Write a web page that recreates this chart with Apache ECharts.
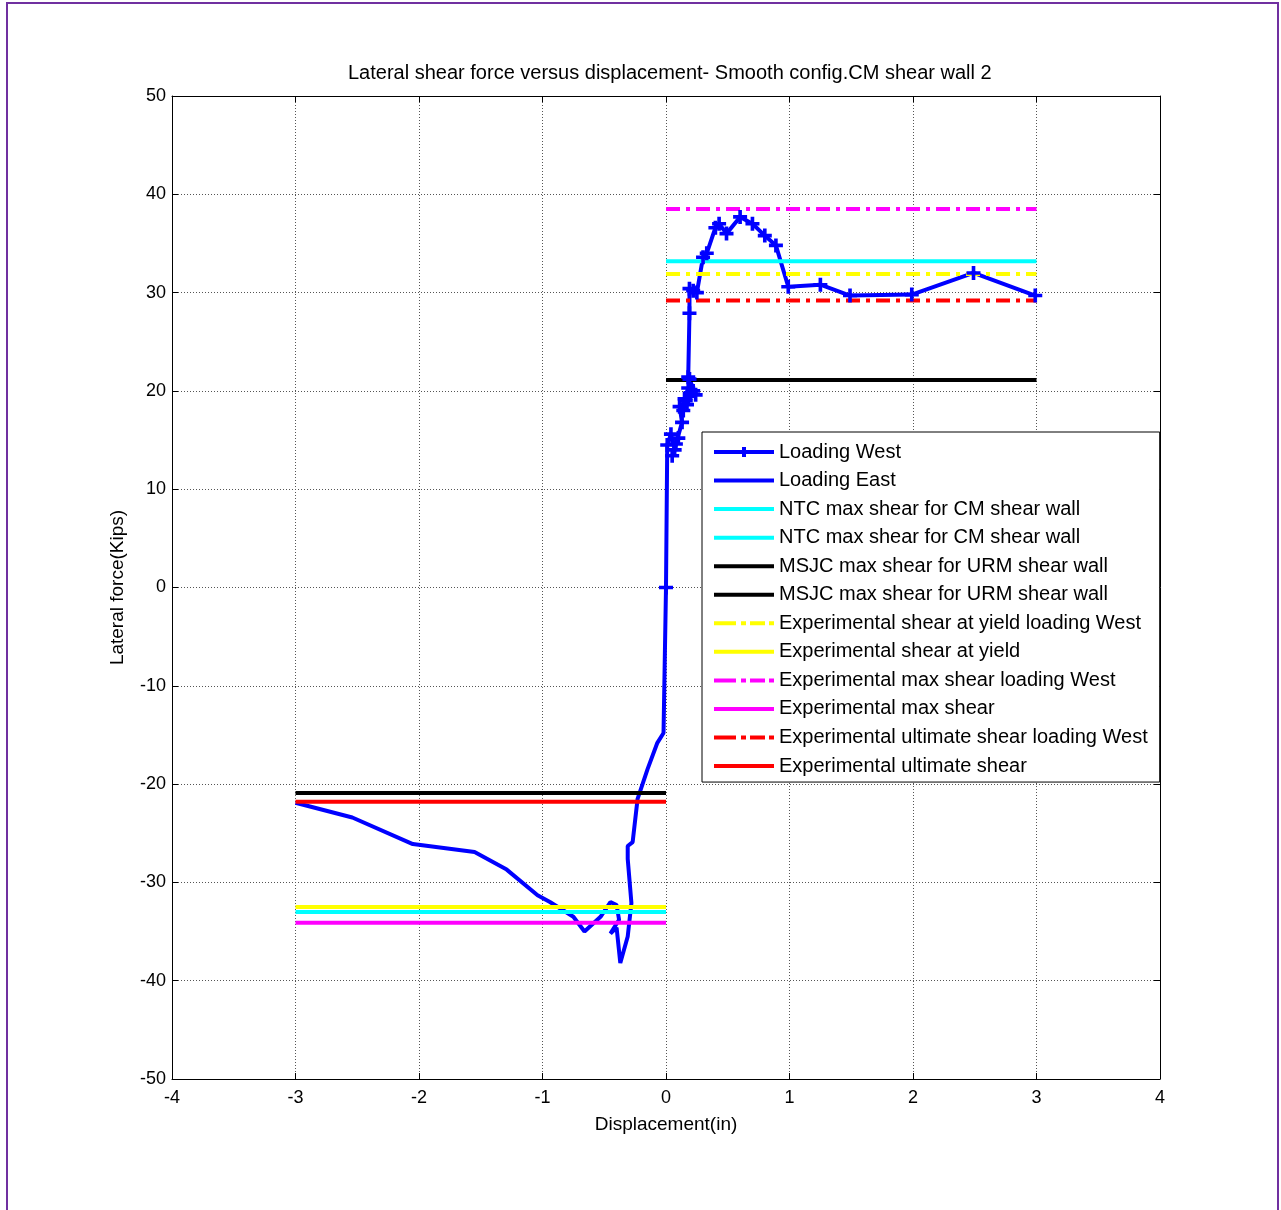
<!DOCTYPE html>
<html>
<head>
<meta charset="utf-8">
<script src="https://cdn.jsdelivr.net/npm/echarts@6/dist/echarts.min.js"></script>
<style>
html,body{margin:0;padding:0;background:#fff;}
#frame{position:absolute;left:6px;top:2px;width:1273px;height:1230px;border:2px solid #7030A0;box-sizing:border-box;}
#chart{position:absolute;left:0;top:0;width:1281px;height:1210px;}
</style>
</head>
<body>
<div id="frame"></div>
<div id="chart"></div>
<script>
// ---- data ----
const xTicks = [-4,-3,-2,-1,0,1,2,3,4];
const yTicks = [-50,-40,-30,-20,-10,0,10,20,30,40,50];

const westX = [0, 0.01, 0.04, 0.07, 0.05, 0.1, 0.08, 0.13, 0.11, 0.16, 0.14, 0.18, 0.15, 0.2, 0.17, 0.22, 0.19, 0.24, 0.18, 0.19, 0.19, 0.22, 0.25, 0.3, 0.33, 0.4, 0.43, 0.49, 0.6, 0.7, 0.8, 0.89, 0.99, 1.25, 1.49, 1.99, 2.49, 2.99];
const westY = [0, 14.5, 15.6, 14.0, 13.4, 15.2, 14.6, 16.8, 18.4, 19.0, 18.0, 20.3, 19.2, 19.8, 18.6, 20.0, 21.2, 19.6, 21.4, 27.9, 30.4, 30.2, 30.0, 33.6, 34.0, 36.6, 37.0, 36.0, 37.7, 37.0, 35.8, 34.8, 30.6, 30.8, 29.7, 29.8, 32.0, 29.7];

const eastX = [0, -0.02, -0.07, -0.15, -0.23, -0.27, -0.31, -0.31, -0.28, -0.31, -0.37, -0.4, -0.45, -0.38, -0.4, -0.45, -0.53, -0.66, -0.75, -0.94, -1.04, -1.29, -1.55, -2.05, -2.54, -3.0];
const eastY = [0, -14.8, -15.8, -18.5, -21.5, -25.9, -26.3, -27.6, -32.1, -35.5, -38.2, -34.6, -35.2, -33.8, -32.3, -32.0, -33.5, -35.0, -33.5, -32.0, -31.3, -28.7, -26.9, -26.1, -23.4, -21.9];

// horizontal reference lines: [x start, x end, value]
const ntcWest = [0, 3, 33.2];
const ntcEast = [-3, 0, -33.0];
const msjcWest = [0, 3, 21.1];
const msjcEast = [-3, 0, -20.9];
const yieldWest = [0, 3, 31.9];
const yieldEast = [-3, 0, -32.5];
const maxWest = [0, 3, 38.5];
const maxEast = [-3, 0, -34.1];
const ultWest = [0, 3, 29.2];
const ultEast = [-3, 0, -21.8];

const names = [
  'Loading West','Loading East',
  'NTC max shear for CM shear wall','NTC max shear for CM shear wall ',
  'MSJC max shear for URM shear wall','MSJC max shear for URM shear wall ',
  'Experimental shear at yield loading West','Experimental shear at yield',
  'Experimental max shear loading West','Experimental max shear',
  'Experimental ultimate shear loading West','Experimental ultimate shear'
];

// ---- chart ----
const FONT = 'Liberation Sans, Arial, sans-serif';
const pair = (xs, ys) => xs.map((x, i) => [x, ys[i]]);
const seg = s => [[s[0], s[2]], [s[1], s[2]]];
const dashDot = [14, 6, 4, 6];
const plus = 'path://M5,0h3.5v5h5v3.5h-5v5h-3.5v-5h-5v-3.5h5z';

// legend icons (60 x 12 box, corner specks keep the box size)
const box = 'M0,0h0.01v0.01h-0.01zM59.99,11.99h0.01v0.01h-0.01z';
const solidIcon = 'path://' + box + 'M0,4h60v4h-60z';
const dashIcon = 'path://' + box + 'M0,4h22v4h-22zM27,4h5v4h-5zM36,4h15v4h-15zM55,4h5v4h-5z';
const westIcon = 'path://' + box + 'M0,4h28v4h-28zM28,1h4v3h3v4h-3v3h-4v-3h-3v-4h3zM35,4h25v4h-25z';
const legendIcons = [westIcon, solidIcon, solidIcon, solidIcon, solidIcon, solidIcon,
  dashIcon, solidIcon, dashIcon, solidIcon, dashIcon, solidIcon];

function hline(name, s, color, dashed) {
  return {
    name, type: 'line', data: seg(s), symbol: 'none', silent: true,
    lineStyle: { color, width: 4, type: dashed ? dashDot : 'solid' },
    itemStyle: { color }
  };
}

const chart = echarts.init(document.getElementById('chart'), null, { renderer: 'canvas' });
const gridLine = { show: true, lineStyle: { color: '#555', type: [1, 2], width: 1 } };
const axisLine = { show: true, onZero: false, lineStyle: { color: '#000', width: 1 } };
const tick = { show: true, inside: true, length: 6, lineStyle: { color: '#000' } };
const labelStyle = { color: '#000', fontSize: 18, fontFamily: FONT };

chart.setOption({
  animation: false,
  backgroundColor: 'transparent',
  title: {
    text: 'Lateral shear force versus displacement- Smooth config.CM shear wall 2',
    left: 343, top: 58,
    textStyle: { fontSize: 20, fontWeight: 'normal', color: '#000', fontFamily: FONT }
  },
  grid: { left: 172, right: 121, top: 96, bottom: 131, containLabel: false },
  legend: {
    orient: 'vertical', left: 702, top: 432,
    backgroundColor: '#fff', borderColor: '#000', borderWidth: 1,
    padding: [10, 12, 6, 12],
    itemWidth: 60, itemHeight: 12, itemGap: 8.55,
    symbolKeepAspect: false,
    textStyle: { fontSize: 20, color: '#000', fontFamily: FONT, lineHeight: 20 },
    data: names.map((n, i) => ({ name: n, icon: legendIcons[i] }))
  },
  xAxis: [
    { type: 'value', min: -4, max: 4, interval: 1, position: 'bottom',
      axisLine, axisTick: tick, splitLine: gridLine,
      axisLabel: Object.assign({ margin: 10 }, labelStyle),
      name: 'Displacement(in)', nameLocation: 'middle', nameGap: 36,
      nameTextStyle: { fontSize: 19, color: '#000', fontFamily: FONT } },
    { type: 'value', min: -4, max: 4, interval: 1, position: 'top',
      axisLine, axisTick: tick, splitLine: { show: false }, axisLabel: { show: false } }
  ],
  yAxis: [
    { type: 'value', min: -50, max: 50, interval: 10, position: 'left',
      axisLine, axisTick: tick, splitLine: gridLine,
      axisLabel: Object.assign({ margin: 6 }, labelStyle),
      name: 'Lateral force(Kips)', nameLocation: 'middle', nameGap: 45, nameRotate: 90,
      nameTextStyle: { fontSize: 19, color: '#000', fontFamily: FONT } },
    { type: 'value', min: -50, max: 50, interval: 10, position: 'right',
      axisLine, axisTick: tick, splitLine: { show: false }, axisLabel: { show: false } }
  ],
  series: [
    { name: names[0], type: 'line', data: pair(westX, westY),
      symbol: plus, symbolSize: 14, showAllSymbol: true,
      lineStyle: { color: '#0000FF', width: 4 }, itemStyle: { color: '#0000FF' } },
    { name: names[1], type: 'line', data: pair(eastX, eastY), symbol: 'none',
      lineStyle: { color: '#0000FF', width: 4 }, itemStyle: { color: '#0000FF' } },
    hline(names[2], ntcWest, '#00FFFF', false),
    hline(names[3], ntcEast, '#00FFFF', false),
    hline(names[4], msjcWest, '#000000', false),
    hline(names[5], msjcEast, '#000000', false),
    hline(names[6], yieldWest, '#FFFF00', true),
    hline(names[7], yieldEast, '#FFFF00', false),
    hline(names[8], maxWest, '#FF00FF', true),
    hline(names[9], maxEast, '#FF00FF', false),
    hline(names[10], ultWest, '#FF0000', true),
    hline(names[11], ultEast, '#FF0000', false)
  ]
});
</script>
</body>
</html>
